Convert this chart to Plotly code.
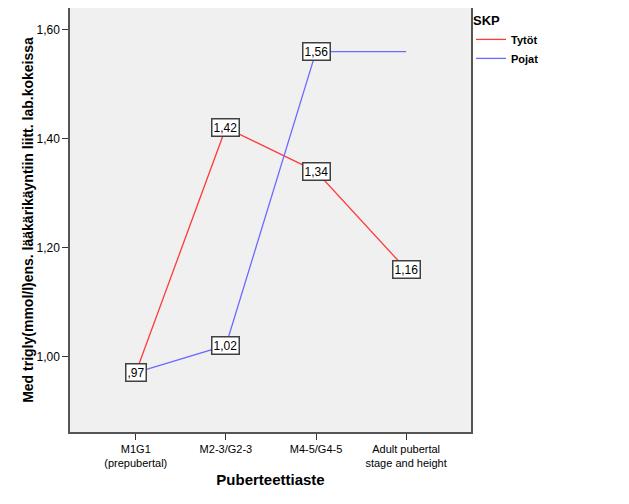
import plotly.graph_objects as go

# Luokat ja arvot luettu kuvasta
categories = ["M1G1<br>(prepubertal)", "M2-3/G2-3", "M4-5/G4-5", "Adult pubertal<br>stage and height"]
tytot = [0.97, 1.42, 1.34, 1.16]
pojat = [0.97, 1.02, 1.56, 1.56]
tytot_labels = ["", "1,42", "1,34", "1,16"]
pojat_labels = [",97", "1,02", "1,56", ""]
y_ticks = [1.0, 1.2, 1.4, 1.6]
y_tick_text = ["1,00", "1,20", "1,40", "1,60"]

RED = "#FF3a3a"
BLUE = "#6b6bff"
FONT = "Liberation Sans, Arial, sans-serif"

xs = list(range(len(categories)))

fig = go.Figure()
fig.add_trace(go.Scatter(x=xs, y=tytot, mode="lines", name="<b>Tytöt</b>",
                         line=dict(color=RED, width=1.3)))
fig.add_trace(go.Scatter(x=xs, y=pojat, mode="lines", name="<b>Pojat</b>",
                         line=dict(color=BLUE, width=1.3)))

# arvolaatikot
for vals, labels in [(tytot, tytot_labels), (pojat, pojat_labels)]:
    for x, v, t in zip(xs, vals, labels):
        if not t:
            continue
        fig.add_annotation(x=x, y=v, text=t, showarrow=False,
                           font=dict(family=FONT, size=12, color="black"),
                           bgcolor="white", bordercolor="#404040",
                           borderwidth=1.5, borderpad=1)

# sivun body-marginaali (8px) huomioitu: kuva 621x496
fig.update_layout(
    width=621, height=496,
    margin=dict(l=62, r=158, t=0, b=72, autoexpand=False),
    paper_bgcolor="white",
    plot_bgcolor="#F0F0F0",
    font=dict(family=FONT, size=11, color="black"),
    showlegend=True,
    legend=dict(
        x=1.0, y=1.0, xanchor="left", yanchor="top",
        title=dict(text="<b>SKP</b>", font=dict(size=13)),
        font=dict(size=11),
        tracegroupgap=0, itemwidth=30,
        bgcolor="rgba(0,0,0,0)",
    ),
    xaxis=dict(
        range=[-0.73, 3.72], tickmode="array", tickvals=xs, ticktext=categories,
        ticks="outside", ticklen=6, tickcolor="#333", tickwidth=1,
        showline=True, linecolor="#555", linewidth=1.5, mirror=True,
        showgrid=False, zeroline=False, automargin=False,
        tickfont=dict(size=11),
        title=dict(text="<b>Puberteettiaste</b>", font=dict(size=15), standoff=6),
    ),
    yaxis=dict(
        range=[0.861, 1.64], tickmode="array", tickvals=y_ticks, ticktext=y_tick_text,
        ticks="outside", ticklen=6, tickcolor="#333", tickwidth=1,
        showline=True, linecolor="#555", linewidth=1.5, mirror=True,
        showgrid=False, zeroline=False, automargin=False,
        tickfont=dict(size=12),
        title=dict(text="<b>Med trigly(mmol/l)ens. lääkärikäyntiin liitt. lab.kokeissa</b>",
                   font=dict(size=14), standoff=0),
    ),
)

fig.write_html("out.html")
